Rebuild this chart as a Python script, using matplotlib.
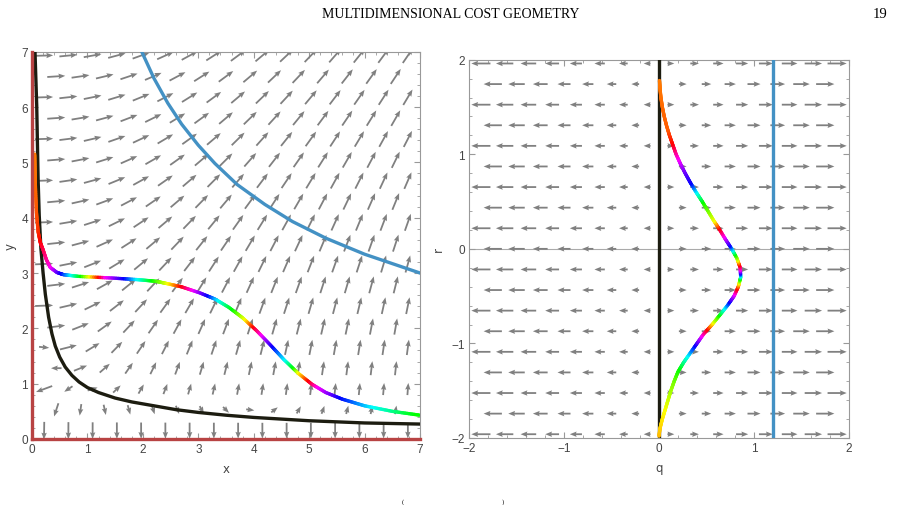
import numpy as np
import matplotlib
import matplotlib.pyplot as plt
from matplotlib.collections import LineCollection
from matplotlib.colors import hsv_to_rgb
from matplotlib.ticker import MultipleLocator

matplotlib.use("Agg")

# ---- left panel (x, y), curves ----
black_x = [0.054, 0.085, 0.11, 0.13, 0.16, 0.2, 0.24, 0.3, 0.36, 0.42, 0.5, 0.6, 0.72, 0.85, 1.0, 1.2, 1.5,
           1.8, 2.2, 2.6, 3.0, 3.5, 4.0, 4.5, 5.0, 6.0, 7.0]
black_y = [7.0, 6.03, 4.7, 4.05, 3.45, 3.0, 2.62, 2.2, 1.9, 1.68, 1.48, 1.3, 1.15, 1.03, 0.93, 0.84, 0.74,
           0.67, 0.6, 0.53, 0.48, 0.43, 0.39, 0.36, 0.33, 0.29, 0.27]

blue_x = [1.98, 2.2, 2.45, 2.7, 3.0, 3.3, 3.7, 4.2, 4.7, 5.3, 6.0, 7.0]
blue_y = [7.0, 6.52, 6.07, 5.69, 5.31, 4.98, 4.60, 4.24, 3.93, 3.63, 3.34, 3.0]

rain_x = [0.05, 0.06, 0.08, 0.11, 0.15, 0.2, 0.26, 0.33, 0.45, 0.57, 0.83, 1.43, 1.91, 2.24, 2.43, 2.70,
          3.03, 3.3, 3.55, 3.8, 4.05, 4.3, 4.55, 4.8, 5.05, 5.3, 5.6, 6.0, 6.5, 7.0]
rain_y = [5.15, 4.6, 4.1, 3.75, 3.55, 3.42, 3.24, 3.1, 3.01, 2.97, 2.94, 2.91, 2.88, 2.85, 2.81, 2.75,
          2.64, 2.53, 2.38, 2.19, 1.96, 1.70, 1.43, 1.19, 0.99, 0.84, 0.72, 0.60, 0.50, 0.43]
# hue (unwrapped, in turns) seen at given x along the curve
rain_hue_x = [0.05, 0.15, 0.35, 0.53, 0.71, 0.89, 1.04, 1.22, 1.34, 1.67, 1.91, 2.18, 2.46, 2.70, 2.91,
              3.18, 3.37, 3.63, 3.85, 4.0, 4.15, 4.35, 4.57, 4.72, 4.81, 4.99, 5.17, 5.56, 6.16, 6.94]
rain_hue = [0.08, 0.0, -0.17, -0.33, -0.5, -0.67, -0.83, -1.0, -1.17, -1.33, -1.5, -1.67, -1.83, -2.0, -2.17,
            -2.33, -2.5, -2.67, -2.83, -3.0, -3.17, -3.33, -3.5, -3.67, -3.83, -4.0, -4.17, -4.33, -4.5, -4.67]

# ---- right panel (q, r) ----
blue_q = 1.2
rr = [-1.98, -1.9, -1.8, -1.7, -1.6, -1.5, -1.4, -1.3, -1.2, -1.1, -1.0, -0.9, -0.8, -0.7, -0.6, -0.5,
      -0.4, -0.3, -0.2, -0.1, 0.0, 0.1, 0.2, 0.3, 0.4, 0.5, 0.6, 0.7, 0.8, 0.9, 1.0, 1.1, 1.2, 1.3, 1.4,
      1.5, 1.6, 1.7, 1.78]
rq = [0.0, 0.01, 0.035, 0.065, 0.095, 0.125, 0.16, 0.2, 0.26, 0.33, 0.40, 0.47, 0.56, 0.64, 0.72, 0.79,
      0.835, 0.86, 0.855, 0.82, 0.765, 0.70, 0.64, 0.575, 0.515, 0.455, 0.39, 0.33, 0.275, 0.225, 0.18,
      0.145, 0.11, 0.08, 0.055, 0.035, 0.02, 0.01, 0.005]
rhue_r = [-1.98, -1.69, -1.41, -1.27, -1.13, -1.02, -0.92, -0.85, -0.78, -0.70, -0.63, -0.56, -0.48, -0.42,
          -0.36, -0.32, -0.29, -0.26, -0.22, -0.17, -0.12, -0.06, 0.035, 0.13, 0.22, 0.30, 0.50, 0.60, 0.70,
          0.84, 0.95, 1.12, 1.27, 1.78]
rhue = [0.12, 0.17, 0.25, 0.33, 0.5, 0.67, 0.83, 1.0, 1.17, 1.33, 1.5, 1.67, 1.83, 2.0, 2.17, 2.33, 2.5,
        2.67, 2.83, 3.0, 3.17, 3.33, 3.67, 3.83, 4.0, 4.17, 4.33, 4.5, 4.67, 4.75, 4.83, 5.0, 5.06, 5.08]

ARROW = "#808080"
RED = "#b84343"
BLUE = "#4391c4"
BLACK = "#1c1c10"


def grid(lo_x, hi_x, lo_y, hi_y, ncol, nrow):
    # staggered grid like Mathematica's VectorPlot
    step = (hi_x - lo_x) / ncol
    ys = np.linspace(lo_y, hi_y, nrow)
    gx, gy = [], []
    for k, yy in enumerate(ys):
        if k % 2 == 0:
            xs = lo_x + step * (np.arange(ncol) + 0.5)
        else:
            xs = lo_x + step * (np.arange(ncol - 1) + 1.0)
        gx.extend(xs)
        gy.extend([yy] * len(xs))
    return np.array(gx), np.array(gy)


def field_left(x, y):
    n = 1.0 / (x + 0.3) ** 0.8
    d = 1.95 - 1.4 * x
    u = 18 * (2 / x) ** 1.1 * (y / 7) ** 2.2 * np.tanh(3 * (y - d))
    v = y - n - 3 * np.exp(-y / 0.2)
    return u, v


def arrows(ax, gx, gy, ang, length):
    ax.quiver(gx, gy, length * np.cos(ang), length * np.sin(ang), angles="uv", scale_units="dots",
              scale=1, units="dots", width=1.8, headwidth=3.0, headlength=3.8, headaxislength=3.4,
              pivot="middle", color=ARROW, zorder=2)


def rainbow(ax, xs, ys, par, hue_at, hue_val, lw=2.4):
    # cut each read segment in short straight pieces so the hue can change along it
    xs, ys, par = map(np.asarray, (xs, ys, par))
    t = np.linspace(0, 1, 16)
    segs, cols = [], []
    for i in range(len(xs) - 1):
        px = xs[i] + (xs[i + 1] - xs[i]) * t
        py = ys[i] + (ys[i + 1] - ys[i]) * t
        pp = par[i] + (par[i + 1] - par[i]) * t
        for j in range(len(t) - 1):
            segs.append([(px[j], py[j]), (px[j + 1], py[j + 1])])
            h = np.interp(0.5 * (pp[j] + pp[j + 1]), hue_at, hue_val) % 1.0
            cols.append(hsv_to_rgb((h, 1.0, 1.0)))
    ax.add_collection(LineCollection(segs, colors=cols, linewidths=lw, capstyle="round", zorder=4))


def style(ax, lo, hi):
    ax.set_xlim(lo, hi)
    ax.set_ylim(lo, hi)
    ax.xaxis.set_major_locator(MultipleLocator(1))
    ax.yaxis.set_major_locator(MultipleLocator(1))
    ax.xaxis.set_minor_locator(MultipleLocator(0.2))
    ax.yaxis.set_minor_locator(MultipleLocator(0.2))
    ax.tick_params(which="both", direction="in", top=True, right=True, color="#999999",
                   labelsize=8.5, labelcolor="#444444", pad=3)
    ax.tick_params(which="major", length=4, width=0.8)
    ax.tick_params(which="minor", length=2, width=0.6)
    for s in ax.spines.values():
        s.set_color("#999999")
        s.set_linewidth(0.8)
    for lab in ax.get_xticklabels() + ax.get_yticklabels():
        lab.set_family("Liberation Sans")


fig = plt.figure(figsize=(9.01, 5.06), dpi=100)
ax1 = fig.add_axes([32 / 901, 66 / 506, 388 / 901, 387.3 / 506])
ax2 = fig.add_axes([469 / 901, 67 / 506, 380 / 901, 378.3 / 506])

# left panel
gx, gy = grid(0, 7, 0.15, 6.93, 16, 19)
u, v = field_left(gx, gy)
mag = np.hypot(u, v)
arrows(ax1, gx, gy, np.arctan2(v, u), 8 + 10 * np.tanh(mag / 1.5))
ax1.plot(blue_x, blue_y, color=BLUE, lw=2.4, zorder=3, solid_joinstyle="round")
ax1.plot(black_x, black_y, color=BLACK, lw=2.4, zorder=3, solid_joinstyle="round")
rainbow(ax1, rain_x, rain_y, rain_x, rain_hue_x, rain_hue)
ax1.plot([0, 0], [0, 7], color=RED, lw=2.4, zorder=5, clip_on=False)
ax1.plot([0, 7], [0, 0], color=RED, lw=2.4, zorder=5, clip_on=False)
style(ax1, 0, 7)
ax1.set_xlabel("x", fontsize=8.5, color="#444444", labelpad=5)
ax1.set_ylabel("y", fontsize=8.5, color="#444444", labelpad=3)

# right panel
qx, qy = grid(-2, 2, -1.96, 1.96, 16, 19)
keep = np.abs(qx) > 1e-9
qx, qy = qx[keep], qy[keep]
arrows(ax2, qx, qy, np.where(qx > 0, 0.0, np.pi), 6 + 7 * np.abs(qx))
ax2.axhline(0, color="#aaaaaa", lw=0.8, zorder=1)
ax2.plot([0, 0], [-2, 2], color=BLACK, lw=2.4, zorder=3)
ax2.plot([blue_q, blue_q], [-2, 2], color=BLUE, lw=2.4, zorder=3)
rainbow(ax2, rq, rr, rr, rhue_r, rhue)
style(ax2, -2, 2)
ax2.set_xlabel("q", fontsize=8.5, color="#444444", labelpad=5)
ax2.set_ylabel("r", fontsize=8.5, color="#444444", labelpad=5)

# page header and the top of the caption line
fig.text(0.5, 1 - 14 / 506, "MULTIDIMENSIONAL COST GEOMETRY", ha="center", va="center",
         fontsize=10, family="Liberation Serif")
fig.text(880 / 901, 1 - 14 / 506, "19", ha="center", va="center", fontsize=10.5, family="Liberation Serif")
fig.text(403 / 901, 1 / 506, "(", ha="center", va="bottom", fontsize=5, family="Liberation Serif")
fig.text(503 / 901, 1 / 506, ")", ha="center", va="bottom", fontsize=5, family="Liberation Serif")

fig.savefig("out.png", dpi=100)
